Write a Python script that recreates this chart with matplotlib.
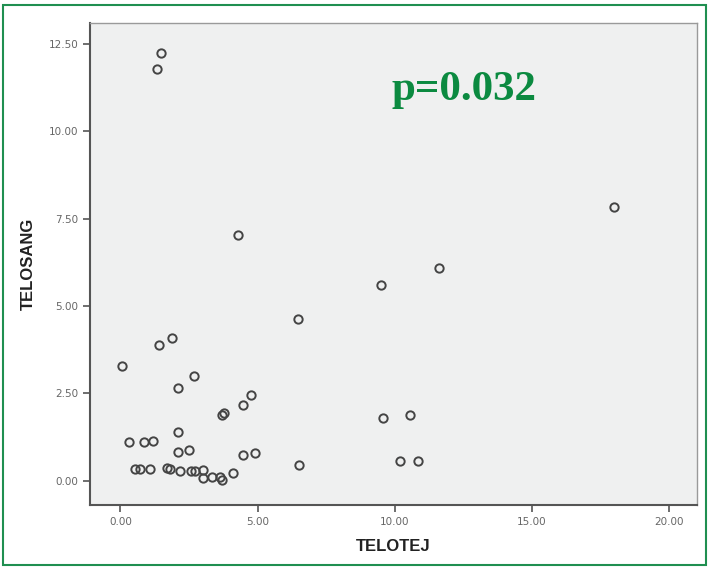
import numpy as np
import matplotlib.pyplot as plt
from matplotlib.patches import Rectangle

# TELOTEJ vs TELOSANG
telotej = [1.48, 1.33, 4.28, 17.99, 11.61, 9.50, 6.48, 1.89, 1.41, 0.07,
           2.68, 2.11, 4.76, 4.48, 3.77, 3.70, 9.57, 10.55, 2.11, 0.32,
           0.87, 1.20, 2.11, 2.51, 4.48, 4.90, 6.52, 10.19, 10.85, 0.53,
           0.71, 1.08, 1.68, 1.80, 2.17, 2.57, 2.72, 3.02, 3.02, 3.32,
           3.63, 3.69, 4.09]
telosang = [12.24, 11.78, 7.04, 7.84, 6.09, 5.61, 4.63, 4.08, 3.87, 3.29,
            3.00, 2.65, 2.46, 2.17, 1.94, 1.89, 1.80, 1.89, 1.39, 1.10,
            1.10, 1.14, 0.82, 0.89, 0.74, 0.79, 0.46, 0.57, 0.57, 0.33,
            0.33, 0.33, 0.38, 0.34, 0.27, 0.29, 0.29, 0.31, 0.08, 0.11,
            0.11, 0.03, 0.22]

xticks = [0, 5, 10, 15, 20]
yticks = [0, 2.5, 5, 7.5, 10, 12.5]

fig = plt.figure(figsize=(7.09, 5.68), dpi=100)
fig.patch.set_facecolor('white')
ax = fig.add_axes([0.127, 0.111, 0.856, 0.849])
ax.set_facecolor('#eff0f0')

ax.plot(telotej, telosang, linestyle='none', marker='o', markersize=6,
        markerfacecolor='none', markeredgecolor='#444444', markeredgewidth=1.4)

ax.set_xlim(-1.11, 21.02)
ax.set_ylim(-0.69, 13.10)
ax.set_xticks(xticks)
ax.set_yticks(yticks)
ax.set_xticklabels(['%.2f' % v for v in xticks])
ax.set_yticklabels(['%.2f' % v for v in yticks])
ax.tick_params(direction='out', length=5, width=1.2, color='#555555',
               labelsize=7.5, labelcolor='#666666')

for side in ['left', 'bottom']:
    ax.spines[side].set_color('#555555')
    ax.spines[side].set_linewidth(1.5)
for side in ['top', 'right']:
    ax.spines[side].set_color('#9a9a9a')
    ax.spines[side].set_linewidth(1.0)

label_font = dict(fontsize=12, fontweight='bold', family='Liberation Sans', color='#222222')
ax.set_xlabel('TELOTEJ', labelpad=9, **label_font)
ax.set_ylabel('TELOSANG', labelpad=9, **label_font)

ax.text(0.616, 0.84, 'p=0.032', transform=ax.transAxes, ha='center', va='baseline',
        fontsize=31, fontweight='bold', family='Liberation Serif', color='#0b8a40')

# green frame round the figure
fig.patches.append(Rectangle((0.004, 0.005), 0.992, 0.986, transform=fig.transFigure,
                             fill=False, edgecolor='#1f8f50', linewidth=1.5))

fig.savefig('out.png', dpi=100)
